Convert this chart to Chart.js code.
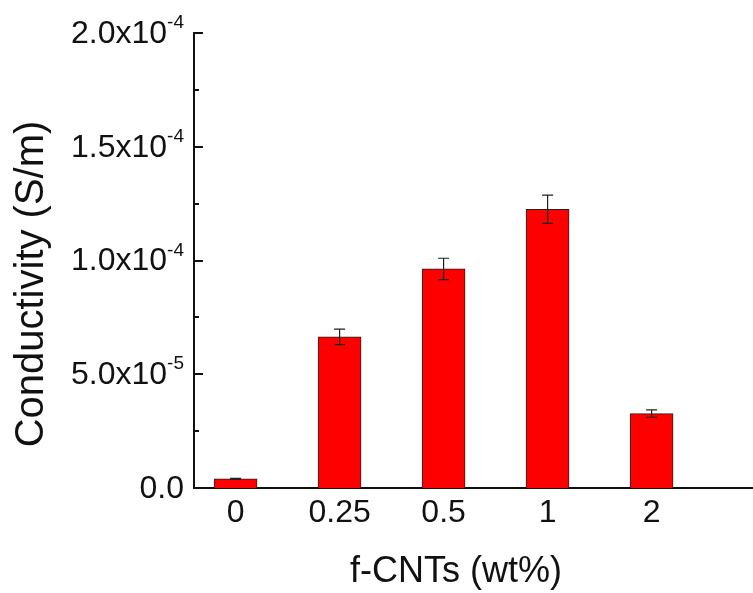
<!DOCTYPE html>
<html lang="en">
<head>
<meta charset="UTF-8"/>
<title>Conductivity vs f-CNTs</title>
<script src="https://cdn.jsdelivr.net/npm/chart.js@4/dist/chart.umd.min.js"></script>
<style>
  *{margin:0;padding:0;box-sizing:border-box}
  body{background:#fff;width:753px;height:593px;overflow:hidden}
  canvas{display:block}
</style>
</head>
<body>
<canvas id="c" width="753" height="593"></canvas>
<script>
// data
const categories   = ['0', '0.25', '0.5', '1', '2'];
const conductivity = [4.0e-6, 6.64e-5, 9.63e-5, 1.225e-4, 3.27e-5];
const errors       = [2e-7, 3.4e-6, 4.7e-6, 6.2e-6, 1.6e-6];

const yTicks      = [0, 5e-5, 1e-4, 1.5e-4, 2e-4];
const yTickMain   = ['0.0', '5.0x10', '1.0x10', '1.5x10', '2.0x10'];
const yTickSup    = ['', '-5', '-4', '-4', '-4'];
const yMinorTicks = [2.5e-5, 7.5e-5, 1.25e-4, 1.75e-4];

const FONT = '"Liberation Sans", Arial, sans-serif';
const ink = '#111';

// ticks pointing inward, tick labels with superscripts, error bars, axis titles
const decor = {
  id: 'decor',
  afterDatasetsDraw(chart) {
    const ctx = chart.ctx, x = chart.scales.x, y = chart.scales.y;
    const area = chart.chartArea;
    ctx.save();

    // error bars
    ctx.strokeStyle = '#222';
    ctx.lineWidth = 1.2;
    conductivity.forEach((v, i) => {
      const px = x.getPixelForValue(i + 1);
      const top = y.getPixelForValue(v + errors[i]);
      const bot = y.getPixelForValue(v - errors[i]);
      ctx.beginPath();
      ctx.moveTo(px, top); ctx.lineTo(px, bot);
      ctx.moveTo(px - 5.5, top); ctx.lineTo(px + 5.5, top);
      ctx.moveTo(px - 5.5, bot); ctx.lineTo(px + 5.5, bot);
      ctx.stroke();
    });

    // y ticks (inward)
    ctx.strokeStyle = ink;
    ctx.lineWidth = 2;
    yTicks.forEach(v => {
      const py = Math.round(y.getPixelForValue(v));
      ctx.beginPath(); ctx.moveTo(area.left, py); ctx.lineTo(area.left + 9, py); ctx.stroke();
    });
    yMinorTicks.forEach(v => {
      const py = Math.round(y.getPixelForValue(v));
      ctx.beginPath(); ctx.moveTo(area.left, py); ctx.lineTo(area.left + 5, py); ctx.stroke();
    });

    // y tick labels
    ctx.fillStyle = ink;
    yTicks.forEach((v, i) => {
      const py = y.getPixelForValue(v);
      const right = area.left - 10;
      ctx.font = '19px ' + FONT;
      const sw = ctx.measureText(yTickSup[i]).width;
      ctx.textAlign = 'left';
      ctx.textBaseline = 'alphabetic';
      if (yTickSup[i]) ctx.fillText(yTickSup[i], right - sw, py - 5);
      ctx.font = '32px ' + FONT;
      ctx.textAlign = 'right';
      ctx.textBaseline = 'middle';
      ctx.fillText(yTickMain[i], right - sw, py + 1);
    });

    // x tick labels
    ctx.font = '32px ' + FONT;
    ctx.textAlign = 'center';
    ctx.textBaseline = 'middle';
    categories.forEach((c, i) => {
      ctx.fillText(c, x.getPixelForValue(i + 1), area.bottom + 25);
    });

    // axis titles
    ctx.font = '36px ' + FONT;
    ctx.textBaseline = 'alphabetic';
    ctx.fillText('f-CNTs (wt%)', 456, 582);

    ctx.font = '40px ' + FONT;
    ctx.translate(43, 284);
    ctx.rotate(-Math.PI / 2);
    ctx.fillText('Conductivity (S/m)', 0, 0);

    ctx.restore();
  }
};

new Chart(document.getElementById('c'), {
  type: 'bar',
  data: {
    datasets: [{
      data: conductivity.map((v, i) => ({ x: i + 1, y: v })),
      backgroundColor: '#ff0000',
      borderColor: '#222',
      borderWidth: 1,
      barThickness: 43,
    }]
  },
  options: {
    responsive: false,
    animation: false,
    layout: { padding: { left: 194, top: 33, right: 0, bottom: 105 } },
    plugins: { legend: { display: false }, tooltip: { enabled: false } },
    scales: {
      x: {
        type: 'linear', min: 0.6, max: 5.975, offset: false,
        ticks: { display: false },
        grid: { display: false, drawTicks: false },
        border: { display: true, color: ink, width: 2 }
      },
      y: {
        min: 0, max: 2e-4,
        ticks: { display: false },
        grid: { display: false, drawTicks: false },
        border: { display: true, color: ink, width: 2 }
      }
    }
  },
  plugins: [decor]
});
</script>
</body>
</html>
